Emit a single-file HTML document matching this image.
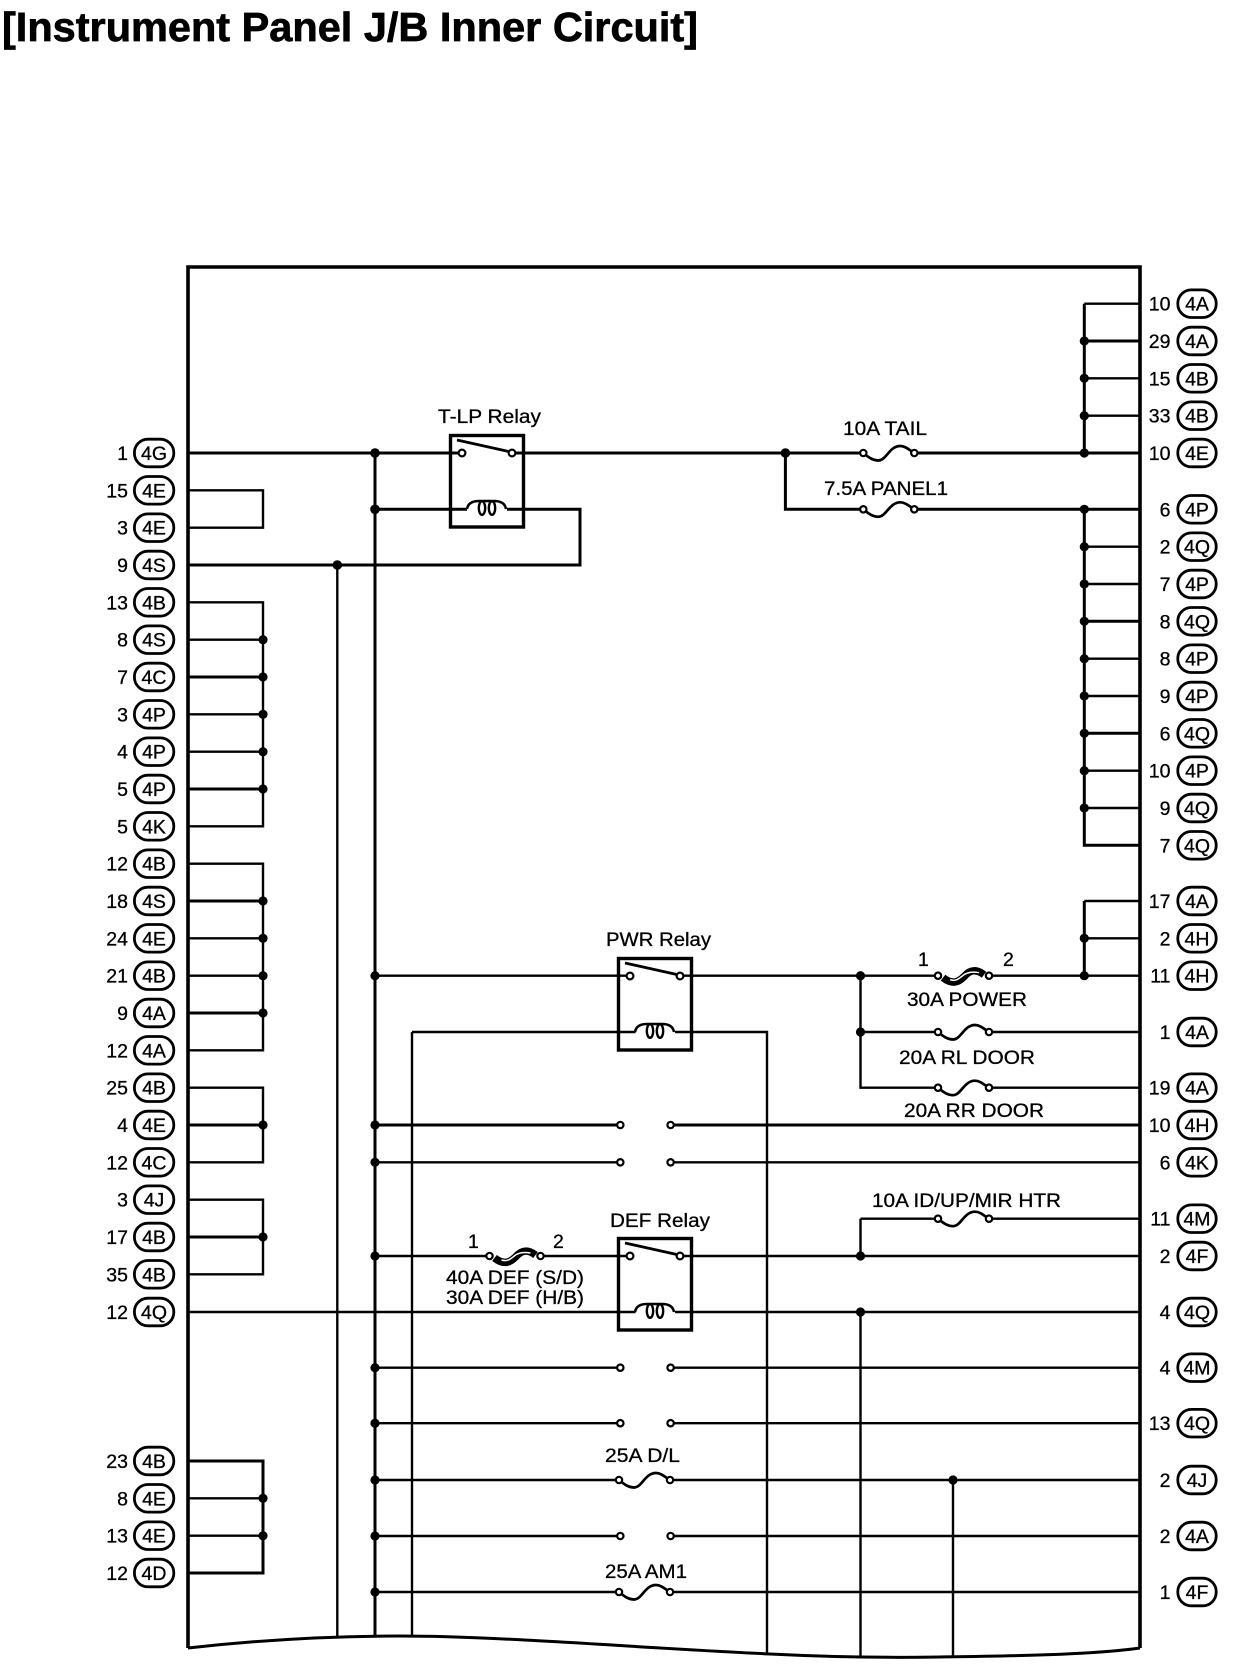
<!DOCTYPE html>
<html><head><meta charset="utf-8"><style>
html,body{margin:0;padding:0;background:#fff}
svg{display:block}
text{font-family:"Liberation Sans",sans-serif;font-size:19.5px;fill:#000;stroke:#000;stroke-width:.3}
.nl,.nr{text-anchor:end}
.m{text-anchor:middle}
.w{fill:none;stroke:#000;stroke-width:2.4}
.h{fill:none;stroke:#000;stroke-width:3}
.d{fill:#000}
.o{fill:#fff;stroke:#000;stroke-width:2.2}
</style></head><body>
<svg xmlns="http://www.w3.org/2000/svg" width="1248" height="1670" viewBox="0 0 1248 1670">
<defs>
<rect id="pl" x="134.4" y="-13.8" width="39.4" height="27.6" rx="13.5" fill="#fff" stroke="#000" stroke-width="2.8"/>
<rect id="pr" x="1177.8" y="-13.8" width="38.4" height="27.6" rx="13.5" fill="#fff" stroke="#000" stroke-width="2.8"/>
<g id="relay">
<rect x="1.5" y="1.5" width="73" height="91.5" fill="none" stroke="#000" stroke-width="3.4"/>
<path d="M8 6L62 18" fill="none" stroke="#000" stroke-width="2.8"/>
<circle class="o" cx="13" cy="19" r="3.4"/><circle class="o" cx="63" cy="19" r="3.4"/>
<path d="M18 75C19 69 24 67 30 67H45C51 67 56 69 57 75" fill="none" stroke="#000" stroke-width="2.5"/>
<ellipse cx="33" cy="74" rx="3.2" ry="6.8" fill="none" stroke="#000" stroke-width="2.4"/>
<ellipse cx="43" cy="74" rx="3.2" ry="6.8" fill="none" stroke="#000" stroke-width="2.4"/>
</g>
<g id="fuse">
<path d="M0 0C6 5 10 7.5 15 7.5C23 7.5 26 -7 37 -7C42 -7 46 -3 51 0" fill="none" stroke="#000" stroke-width="2.7"/>
<circle class="o" cx="0" cy="0" r="3.2"/><circle class="o" cx="51" cy="0" r="3.2"/>
</g>
<g id="link">
<path d="M5 2C14 9 20 7 26 1C32 -6 38 -7 46 -1" fill="none" stroke="#000" stroke-width="7.5"/>
<path d="M12 4C18 6 21 3 26 -1C31 -4 36 -4 41 -3" fill="none" stroke="#fff" stroke-width="1.5"/>
<circle class="o" cx="0" cy="0" r="3.2"/><circle class="o" cx="51" cy="0" r="3.2"/>
</g>
</defs>

<text x="2" y="41" style="font-size:41px;font-weight:bold;stroke-width:.7" textLength="696" lengthAdjust="spacingAndGlyphs">[Instrument Panel J/B Inner Circuit]</text>

<path d="M188 1648V267H1140V1648" fill="none" stroke="#000" stroke-width="3.6"/>
<path d="M188 1648C260 1640 330 1636 400 1636C500 1636 640 1648 770 1654C830 1657 880 1658 940 1657C1010 1656 1090 1655 1140 1648" fill="none" stroke="#000" stroke-width="3"/>

<path class="w" d="M188 490.3H263V527.7H188
M188 602.3H263V826.3H188M188 714.3H263M188 751.7H263M188 639.7H263
M188 863.7H263V1050.3H188M188 938.3H263M188 975.7H263
M188 1087.7H263V1162.3H188
M188 1199.7H263V1274.3H188
M188 1498.3H263M188 1535.7H263
M337.3 565V1638M412 1032V1637
M1084.3 303.7H1140M1084.3 378.3H1140M1084.3 415.7H1140
M1084.3 546.7H1140M1084.3 584H1140M1084.3 658.7H1140M1084.3 696H1140M1084.3 770.7H1140M1084.3 808H1140
M1084.3 901H1140M1084.3 938.3H1140
M375 975.7H630.7M680.3 975.7H938M989 975.7H1140
M412 1032H635.5M675 1032H767V1653
M860.5 975.7V1087.7H938M860.5 1032H938M989 1032H1140M989 1087.7H1140
M375 1162.3H620M670.5 1162.3H1140
M860.5 1218.7H938M989 1218.7H1140M860.5 1218.7V1256
M375 1256H489.5M540 1256H630M680 1256H1140
M188 1312H635.5M675 1312H1140M860.5 1312V1657
M375 1367.7H620M670.5 1367.7H1140M375 1423.2H620M670.5 1423.2H1140
M375 1480H618M670 1480H1140M953 1480V1657
M375 1536H620M670.5 1536H1140
M375 1592H618M670 1592H1140"/>
<path class="h" d="M188 453H462M512 453H864M915 453H1140M785.4 453V509.3H864M915 509.3H1140
M375 509.3H467M507 509.3H580V565H188
M375 453V1637
M188 677H263M188 789H263M188 901H263M188 1013H263M188 1125H263M188 1237H263
M188 1461H263V1573H188
M1084.3 341H1140M1084.3 303.7V453M1084.3 509.3V845.3H1140M1084.3 621.3H1140M1084.3 733.3H1140M1084.3 901V975.7
M375 1125H620M670.5 1125H1140"/>

<g class="d">
<circle cx="375" cy="453" r="4.8"/><circle cx="375" cy="509.3" r="4.8"/><circle cx="337.3" cy="565" r="4.8"/>
<circle cx="785.4" cy="453" r="4.8"/>
<circle cx="263" cy="639.7" r="4.6"/><circle cx="263" cy="677" r="4.6"/><circle cx="263" cy="714.3" r="4.6"/><circle cx="263" cy="751.7" r="4.6"/><circle cx="263" cy="789" r="4.6"/>
<circle cx="263" cy="901" r="4.6"/><circle cx="263" cy="938.3" r="4.6"/><circle cx="263" cy="975.7" r="4.6"/><circle cx="263" cy="1013" r="4.6"/>
<circle cx="263" cy="1125" r="4.6"/><circle cx="263" cy="1237" r="4.6"/><circle cx="263" cy="1498.3" r="4.6"/><circle cx="263" cy="1535.7" r="4.6"/>
<circle cx="1084.3" cy="341" r="4.6"/><circle cx="1084.3" cy="378.3" r="4.6"/><circle cx="1084.3" cy="415.7" r="4.6"/><circle cx="1084.3" cy="453" r="4.6"/>
<circle cx="1084.3" cy="509.3" r="4.6"/><circle cx="1084.3" cy="546.7" r="4.6"/><circle cx="1084.3" cy="584" r="4.6"/><circle cx="1084.3" cy="621.3" r="4.6"/><circle cx="1084.3" cy="658.7" r="4.6"/><circle cx="1084.3" cy="696" r="4.6"/><circle cx="1084.3" cy="733.3" r="4.6"/><circle cx="1084.3" cy="770.7" r="4.6"/><circle cx="1084.3" cy="808" r="4.6"/>
<circle cx="1084.3" cy="938.3" r="4.6"/><circle cx="1084.3" cy="975.7" r="4.6"/>
<circle cx="375" cy="975.7" r="4.6"/><circle cx="860.5" cy="975.7" r="4.6"/><circle cx="860.5" cy="1032" r="4.6"/>
<circle cx="375" cy="1125" r="4.6"/><circle cx="375" cy="1162.3" r="4.6"/><circle cx="375" cy="1256" r="4.6"/><circle cx="860.5" cy="1256" r="4.6"/><circle cx="860.5" cy="1312" r="4.6"/>
<circle cx="375" cy="1367.7" r="4.6"/><circle cx="375" cy="1423.2" r="4.6"/><circle cx="375" cy="1480" r="4.6"/><circle cx="953" cy="1480" r="4.6"/><circle cx="375" cy="1536" r="4.6"/><circle cx="375" cy="1592" r="4.6"/>
</g>

<use href="#relay" x="449" y="434"/>
<use href="#relay" x="617" y="957"/>
<use href="#relay" x="617" y="1237"/>

<use href="#fuse" x="863.3" y="453"/>
<use href="#fuse" x="863.3" y="509.3"/>
<use href="#link" x="938" y="975.7"/>
<use href="#fuse" x="938" y="1032"/>
<use href="#fuse" x="938" y="1087.7"/>
<use href="#fuse" x="938" y="1218.7"/>
<use href="#link" x="489.5" y="1256"/>
<use href="#fuse" x="619" y="1480"/>
<use href="#fuse" x="619" y="1592"/>

<circle class="o" cx="620.3" cy="1125" r="3.2"/><circle class="o" cx="670.6" cy="1125" r="3.2"/>
<circle class="o" cx="620.3" cy="1162.3" r="3.2"/><circle class="o" cx="670.6" cy="1162.3" r="3.2"/>
<circle class="o" cx="620.3" cy="1367.7" r="3.2"/><circle class="o" cx="670.6" cy="1367.7" r="3.2"/>
<circle class="o" cx="620.3" cy="1423.2" r="3.2"/><circle class="o" cx="670.6" cy="1423.2" r="3.2"/>
<circle class="o" cx="620.3" cy="1536" r="3.2"/><circle class="o" cx="670.6" cy="1536" r="3.2"/>

<text x="438" y="423" textLength="103" lengthAdjust="spacingAndGlyphs">T-LP Relay</text>
<text x="843" y="435" textLength="84" lengthAdjust="spacingAndGlyphs">10A TAIL</text>
<text x="824" y="495" textLength="124" lengthAdjust="spacingAndGlyphs">7.5A PANEL1</text>
<text x="606" y="946" textLength="105" lengthAdjust="spacingAndGlyphs">PWR Relay</text>
<text x="918" y="966">1</text><text x="1003" y="966">2</text>
<text x="907" y="1006" textLength="120" lengthAdjust="spacingAndGlyphs">30A POWER</text>
<text x="899" y="1064" textLength="136" lengthAdjust="spacingAndGlyphs">20A RL DOOR</text>
<text x="904" y="1117" textLength="140" lengthAdjust="spacingAndGlyphs">20A RR DOOR</text>
<text x="872" y="1207" textLength="189" lengthAdjust="spacingAndGlyphs">10A ID/UP/MIR HTR</text>
<text x="610" y="1227" textLength="100" lengthAdjust="spacingAndGlyphs">DEF Relay</text>
<text x="468" y="1248">1</text><text x="553" y="1248">2</text>
<text x="446" y="1284" textLength="138" lengthAdjust="spacingAndGlyphs">40A DEF (S/D)</text>
<text x="446" y="1304" textLength="138" lengthAdjust="spacingAndGlyphs">30A DEF (H/B)</text>
<text x="605" y="1462" textLength="75" lengthAdjust="spacingAndGlyphs">25A D/L</text>
<text x="605" y="1578" textLength="82" lengthAdjust="spacingAndGlyphs">25A AM1</text>

<!-- Left connectors -->
<g transform="translate(0,453)"><use href="#pl"/><text class="nl" x="128" y="7">1</text><text class="m" x="154" y="7">4G</text></g>
<g transform="translate(0,490.3)"><use href="#pl"/><text class="nl" x="128" y="7">15</text><text class="m" x="154" y="7">4E</text></g>
<g transform="translate(0,527.7)"><use href="#pl"/><text class="nl" x="128" y="7">3</text><text class="m" x="154" y="7">4E</text></g>
<g transform="translate(0,565)"><use href="#pl"/><text class="nl" x="128" y="7">9</text><text class="m" x="154" y="7">4S</text></g>
<g transform="translate(0,602.3)"><use href="#pl"/><text class="nl" x="128" y="7">13</text><text class="m" x="154" y="7">4B</text></g>
<g transform="translate(0,639.7)"><use href="#pl"/><text class="nl" x="128" y="7">8</text><text class="m" x="154" y="7">4S</text></g>
<g transform="translate(0,677)"><use href="#pl"/><text class="nl" x="128" y="7">7</text><text class="m" x="154" y="7">4C</text></g>
<g transform="translate(0,714.3)"><use href="#pl"/><text class="nl" x="128" y="7">3</text><text class="m" x="154" y="7">4P</text></g>
<g transform="translate(0,751.7)"><use href="#pl"/><text class="nl" x="128" y="7">4</text><text class="m" x="154" y="7">4P</text></g>
<g transform="translate(0,789)"><use href="#pl"/><text class="nl" x="128" y="7">5</text><text class="m" x="154" y="7">4P</text></g>
<g transform="translate(0,826.3)"><use href="#pl"/><text class="nl" x="128" y="7">5</text><text class="m" x="154" y="7">4K</text></g>
<g transform="translate(0,863.7)"><use href="#pl"/><text class="nl" x="128" y="7">12</text><text class="m" x="154" y="7">4B</text></g>
<g transform="translate(0,901)"><use href="#pl"/><text class="nl" x="128" y="7">18</text><text class="m" x="154" y="7">4S</text></g>
<g transform="translate(0,938.3)"><use href="#pl"/><text class="nl" x="128" y="7">24</text><text class="m" x="154" y="7">4E</text></g>
<g transform="translate(0,975.7)"><use href="#pl"/><text class="nl" x="128" y="7">21</text><text class="m" x="154" y="7">4B</text></g>
<g transform="translate(0,1013)"><use href="#pl"/><text class="nl" x="128" y="7">9</text><text class="m" x="154" y="7">4A</text></g>
<g transform="translate(0,1050.3)"><use href="#pl"/><text class="nl" x="128" y="7">12</text><text class="m" x="154" y="7">4A</text></g>
<g transform="translate(0,1087.7)"><use href="#pl"/><text class="nl" x="128" y="7">25</text><text class="m" x="154" y="7">4B</text></g>
<g transform="translate(0,1125)"><use href="#pl"/><text class="nl" x="128" y="7">4</text><text class="m" x="154" y="7">4E</text></g>
<g transform="translate(0,1162.3)"><use href="#pl"/><text class="nl" x="128" y="7">12</text><text class="m" x="154" y="7">4C</text></g>
<g transform="translate(0,1199.7)"><use href="#pl"/><text class="nl" x="128" y="7">3</text><text class="m" x="154" y="7">4J</text></g>
<g transform="translate(0,1237)"><use href="#pl"/><text class="nl" x="128" y="7">17</text><text class="m" x="154" y="7">4B</text></g>
<g transform="translate(0,1274.3)"><use href="#pl"/><text class="nl" x="128" y="7">35</text><text class="m" x="154" y="7">4B</text></g>
<g transform="translate(0,1312)"><use href="#pl"/><text class="nl" x="128" y="7">12</text><text class="m" x="154" y="7">4Q</text></g>
<g transform="translate(0,1461)"><use href="#pl"/><text class="nl" x="128" y="7">23</text><text class="m" x="154" y="7">4B</text></g>
<g transform="translate(0,1498.3)"><use href="#pl"/><text class="nl" x="128" y="7">8</text><text class="m" x="154" y="7">4E</text></g>
<g transform="translate(0,1535.7)"><use href="#pl"/><text class="nl" x="128" y="7">13</text><text class="m" x="154" y="7">4E</text></g>
<g transform="translate(0,1573)"><use href="#pl"/><text class="nl" x="128" y="7">12</text><text class="m" x="154" y="7">4D</text></g>

<!-- Right connectors -->
<g transform="translate(0,303.7)"><use href="#pr"/><text class="nr" x="1170.5" y="7">10</text><text class="m" x="1197" y="7">4A</text></g>
<g transform="translate(0,341)"><use href="#pr"/><text class="nr" x="1170.5" y="7">29</text><text class="m" x="1197" y="7">4A</text></g>
<g transform="translate(0,378.3)"><use href="#pr"/><text class="nr" x="1170.5" y="7">15</text><text class="m" x="1197" y="7">4B</text></g>
<g transform="translate(0,415.7)"><use href="#pr"/><text class="nr" x="1170.5" y="7">33</text><text class="m" x="1197" y="7">4B</text></g>
<g transform="translate(0,453)"><use href="#pr"/><text class="nr" x="1170.5" y="7">10</text><text class="m" x="1197" y="7">4E</text></g>
<g transform="translate(0,509.3)"><use href="#pr"/><text class="nr" x="1170.5" y="7">6</text><text class="m" x="1197" y="7">4P</text></g>
<g transform="translate(0,546.7)"><use href="#pr"/><text class="nr" x="1170.5" y="7">2</text><text class="m" x="1197" y="7">4Q</text></g>
<g transform="translate(0,584)"><use href="#pr"/><text class="nr" x="1170.5" y="7">7</text><text class="m" x="1197" y="7">4P</text></g>
<g transform="translate(0,621.3)"><use href="#pr"/><text class="nr" x="1170.5" y="7">8</text><text class="m" x="1197" y="7">4Q</text></g>
<g transform="translate(0,658.7)"><use href="#pr"/><text class="nr" x="1170.5" y="7">8</text><text class="m" x="1197" y="7">4P</text></g>
<g transform="translate(0,696)"><use href="#pr"/><text class="nr" x="1170.5" y="7">9</text><text class="m" x="1197" y="7">4P</text></g>
<g transform="translate(0,733.3)"><use href="#pr"/><text class="nr" x="1170.5" y="7">6</text><text class="m" x="1197" y="7">4Q</text></g>
<g transform="translate(0,770.7)"><use href="#pr"/><text class="nr" x="1170.5" y="7">10</text><text class="m" x="1197" y="7">4P</text></g>
<g transform="translate(0,808)"><use href="#pr"/><text class="nr" x="1170.5" y="7">9</text><text class="m" x="1197" y="7">4Q</text></g>
<g transform="translate(0,845.3)"><use href="#pr"/><text class="nr" x="1170.5" y="7">7</text><text class="m" x="1197" y="7">4Q</text></g>
<g transform="translate(0,901)"><use href="#pr"/><text class="nr" x="1170.5" y="7">17</text><text class="m" x="1197" y="7">4A</text></g>
<g transform="translate(0,938.3)"><use href="#pr"/><text class="nr" x="1170.5" y="7">2</text><text class="m" x="1197" y="7">4H</text></g>
<g transform="translate(0,975.7)"><use href="#pr"/><text class="nr" x="1170.5" y="7">11</text><text class="m" x="1197" y="7">4H</text></g>
<g transform="translate(0,1032)"><use href="#pr"/><text class="nr" x="1170.5" y="7">1</text><text class="m" x="1197" y="7">4A</text></g>
<g transform="translate(0,1087.7)"><use href="#pr"/><text class="nr" x="1170.5" y="7">19</text><text class="m" x="1197" y="7">4A</text></g>
<g transform="translate(0,1125)"><use href="#pr"/><text class="nr" x="1170.5" y="7">10</text><text class="m" x="1197" y="7">4H</text></g>
<g transform="translate(0,1162.3)"><use href="#pr"/><text class="nr" x="1170.5" y="7">6</text><text class="m" x="1197" y="7">4K</text></g>
<g transform="translate(0,1218.7)"><use href="#pr"/><text class="nr" x="1170.5" y="7">11</text><text class="m" x="1197" y="7">4M</text></g>
<g transform="translate(0,1256)"><use href="#pr"/><text class="nr" x="1170.5" y="7">2</text><text class="m" x="1197" y="7">4F</text></g>
<g transform="translate(0,1312)"><use href="#pr"/><text class="nr" x="1170.5" y="7">4</text><text class="m" x="1197" y="7">4Q</text></g>
<g transform="translate(0,1367.7)"><use href="#pr"/><text class="nr" x="1170.5" y="7">4</text><text class="m" x="1197" y="7">4M</text></g>
<g transform="translate(0,1423.2)"><use href="#pr"/><text class="nr" x="1170.5" y="7">13</text><text class="m" x="1197" y="7">4Q</text></g>
<g transform="translate(0,1480)"><use href="#pr"/><text class="nr" x="1170.5" y="7">2</text><text class="m" x="1197" y="7">4J</text></g>
<g transform="translate(0,1536)"><use href="#pr"/><text class="nr" x="1170.5" y="7">2</text><text class="m" x="1197" y="7">4A</text></g>
<g transform="translate(0,1592)"><use href="#pr"/><text class="nr" x="1170.5" y="7">1</text><text class="m" x="1197" y="7">4F</text></g>
</svg>
</body></html>
